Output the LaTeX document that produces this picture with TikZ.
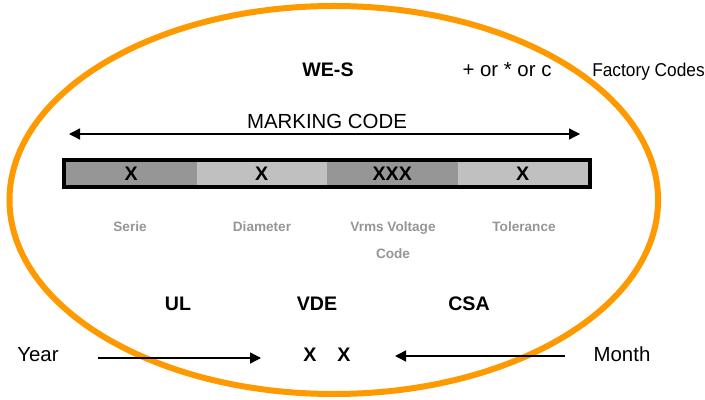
\documentclass[tikz,border=0pt]{standalone}
\usepackage{fontspec}
\setmainfont{Liberation Sans}
\newfontfamily\narrowfont{Liberation Sans}[FakeStretch=0.93]
\usetikzlibrary{positioning, arrows.meta}
\definecolor{rimorange}{RGB}{255,153,0}
\definecolor{darkcell}{RGB}{150,150,150}
\definecolor{lightcell}{RGB}{192,192,192}
\definecolor{labelgray}{RGB}{150,150,150}

\tikzset{
  txt/.style={anchor=base, inner sep=0pt, font=\fontsize{10.2}{12}\selectfont},
  bold/.style={txt, font=\fontsize{9.8}{12}\selectfont\bfseries},
  field/.style={txt, text=labelgray, font=\fontsize{6.8}{8}\selectfont\bfseries},
  cell/.style={inner sep=0pt, outer sep=0pt, minimum width=65.25pt, minimum height=11.5pt,
    font=\fontsize{9.8}{11}\selectfont\bfseries},
}

\begin{document}
\begin{tikzpicture}[x=0.5pt, y=-0.5pt, line width=0.65pt,
    >={Triangle[length=5.5pt, width=5.5pt]}]
  \useasboundingbox (0,0) rectangle (705,400);
  % outline
  \draw[rimorange, line width=3pt] (333.8,200) ellipse [x radius=324.3, y radius=194];

  \node[bold] (wes) at (328,76.3) {WE-S};
  \node[txt] (sign) at (507,76.7) {+ or * or c};
  \node[txt, font=\narrowfont\fontsize{9.3}{11}\selectfont] (factory) at (648.5,76.7) {Factory Codes};

  \node[txt] (marking) at (327,129) {MARKING CODE};
  \coordinate (mcL) at (69,134);
  \coordinate (mcR) at (580,134);
  \draw[<->] (mcL) -- (mcR);

  % code cells
  \node[cell, fill=darkcell, anchor=west] (serie) at (66,174) {X};
  \node[cell, fill=lightcell, right=0pt of serie] (diam) {X};
  \node[cell, fill=darkcell, right=0pt of diam] (volt) {XXX};
  \node[cell, fill=lightcell, right=0pt of volt] (tol) {X};
  \draw[line width=2pt] ([shift={(-2,-2)}]serie.north west) rectangle ([shift={(2,2)}]tol.south east);

  \node[field] (serieL) at (130,232) {Serie};
  \node[field] (diamL) at (262,232) {Diameter};
  \node[field] (voltL) at (393,232) {Vrms Voltage};
  \node[field] (codeL) at (393,258) {Code};
  \node[field] (tolL) at (524,232) {Tolerance};

  \node[bold] (ul) at (178,310) {UL};
  \node[bold] (vde) at (317,310) {VDE};
  \node[bold] (csa) at (469,310) {CSA};

  % date code
  \node[txt] (year) at (38,361.7) {Year};
  \node[bold] (yx) at (310,361) {X};
  \node[bold] (mx) at (344,361) {X};
  \node[txt] (month) at (622,361.7) {Month};
  \coordinate (yearA) at (98,358);
  \coordinate (yearB) at (261,358);
  \coordinate (monthA) at (565,356);
  \coordinate (monthB) at (395,356);
  \draw[->] (yearA) -- (yearB);
  \draw[->] (monthA) -- (monthB);
\end{tikzpicture}
\end{document}
